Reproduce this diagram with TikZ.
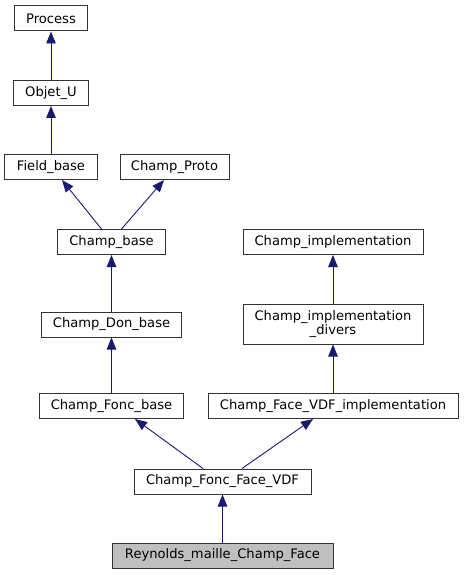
\documentclass[tikz,border=0pt]{standalone}
\usepackage{fontspec}
\setmainfont{DejaVu Sans}
\usetikzlibrary{arrows.meta}
\definecolor{edgeblue}{HTML}{191970}
\definecolor{boxline}{HTML}{333333}
\definecolor{greyfill}{HTML}{BFBFBF}
\begin{document}
\begin{tikzpicture}[x=1bp,y=-1bp,
  cls/.style={draw=boxline, line width=1bp, fill=white, inner sep=0pt, align=center,
    font=\fontsize{13.1bp}{14.5bp}\selectfont, minimum height=25bp},
  cur/.style={cls, fill=greyfill},
  edge/.style={draw=edgeblue, line width=0.9bp, -{Triangle[length=12bp,width=9.5bp]}}]
\useasboundingbox (0,0) rectangle (464,575);
\node[cls, minimum width=73bp] (process) at (51,18.5) {Process};
\node[cls, minimum width=74bp] (objet) at (51,93) {Objet\_U};
\node[cls, minimum width=92bp] (field) at (51,167) {Field\_base};
\node[cls, minimum width=109bp] (proto) at (174.5,167) {Champ\_Proto};
\node[cls, minimum width=108bp] (cbase) at (111.5,242) {Champ\_base};
\node[cls, minimum width=180bp] (cimpl) at (333,242) {Champ\_implementation};
\node[cls, minimum width=139bp] (cdon) at (111.5,324.5) {Champ\_Don\_base};
\node[cls, minimum width=180bp, minimum height=40bp] (cdiv) at (333,324) {Champ\_implementation\\\_divers};
\node[cls, minimum width=143bp] (cfonc) at (111.5,406) {Champ\_Fonc\_base};
\node[cls, minimum width=250bp] (cfvdf) at (333,406) {Champ\_Face\_VDF\_implementation};
\node[cls, minimum width=177bp] (cffvdf) at (222.5,481.5) {Champ\_Fonc\_Face\_VDF};
\node[cur, minimum width=221bp] (rey) at (222.5,555.5) {Reynolds\_maille\_Champ\_Face};
\draw[edge] (objet.north) -- (process.south);
\draw[edge] (field.north) -- (objet.south);
\draw[edge] ([xshift=-10bp]cbase.north) -- ([xshift=11bp]field.south);
\draw[edge] ([xshift=10bp]cbase.north) -- ([xshift=-10.5bp]proto.south);
\draw[edge] (cdon.north) -- (cbase.south);
\draw[edge] (cfonc.north) -- (cdon.south);
\draw[edge] (cdiv.north) -- (cimpl.south);
\draw[edge] (cfvdf.north) -- (cdiv.south);
\draw[edge] ([xshift=-19.5bp]cffvdf.north) -- ([xshift=23.5bp]cfonc.south);
\draw[edge] ([xshift=19.5bp]cffvdf.north) -- ([xshift=-20bp]cfvdf.south);
\draw[edge] (rey.north) -- (cffvdf.south);
\end{tikzpicture}
\end{document}
